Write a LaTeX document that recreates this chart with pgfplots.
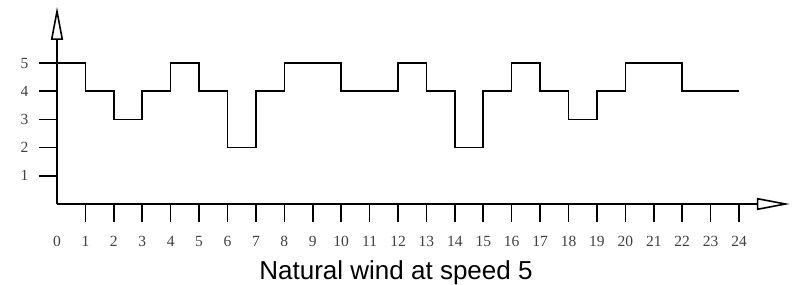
\documentclass[border=0pt]{standalone}
\usepackage{fontspec}
\setmainfont{Liberation Serif}
\newfontfamily\titlefont{Liberation Sans}
\usepackage{pgfplots}
\pgfplotsset{compat=1.18}
\usetikzlibrary{arrows.meta}
\newcommand\tlfont{\fontsize{15.5bp}{18bp}\selectfont}
\begin{document}
\begin{tikzpicture}
\useasboundingbox (-57bp,-81bp) rectangle (745bp,204bp);
\begin{axis}[
  at={(0,0)}, anchor=south west,
  x=28.417bp, y=28.2bp,
  xmin=0, xmax=25.79, ymin=0, ymax=6.99,
  axis lines=left,
  axis line style={line width=1.6bp, -{Triangle[open,length=33bp,width=12bp,line width=1.6bp]}},
  clip=false,
  xtick={1,...,24},
  extra x ticks={0},
  extra x tick style={major tick length=0pt, xticklabel style={yshift=-18bp}},
  ytick={1,...,5},
  tick align=outside,
  major tick length=18bp,
  tick style={line width=1.6bp, black},
  /pgf/number format/assume math mode=true,
  tick label style={font=\tlfont, text=black!75},
  xticklabel style={font=\tlfont, anchor=base, yshift=-24bp},
  yticklabel style={font=\tlfont, xshift=-7bp},
]
\addplot[const plot, line width=1.6bp, black] coordinates {
(0,5) (1,4) (2,3) (3,4) (4,5) (5,4) (6,2) (7,4) (8,5) (9,5) (10,4) (11,4)
(12,5) (13,4) (14,2) (15,4) (16,5) (17,4) (18,3) (19,4) (20,5) (21,5)
(22,4) (23,4) (24,4)
};
\end{axis}
\node[anchor=base, font=\titlefont\fontsize{26bp}{30bp}\selectfont, inner sep=0pt] at (339bp,-75bp) {Natural wind at speed 5};
\end{tikzpicture}
\end{document}
